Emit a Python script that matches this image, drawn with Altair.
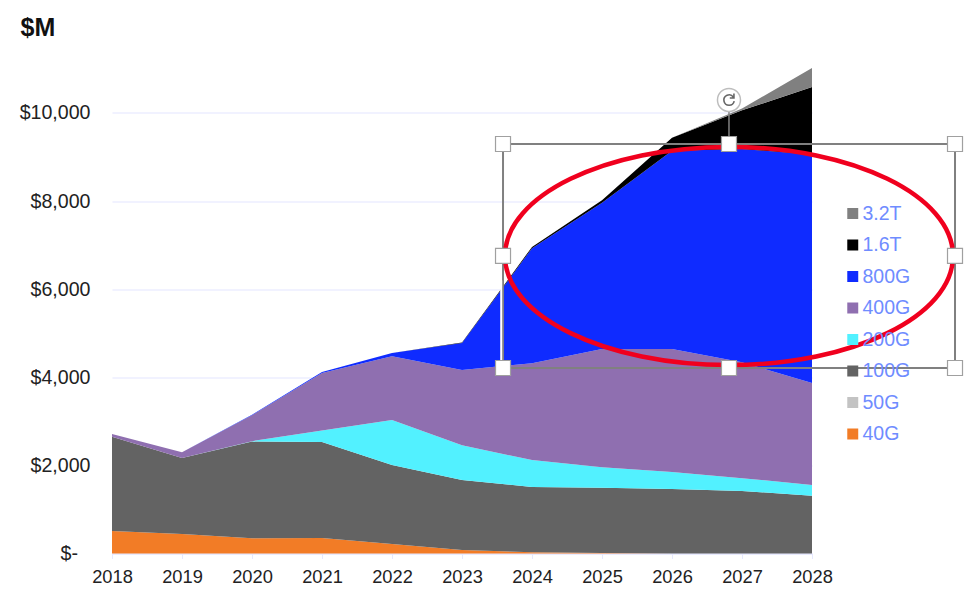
import altair as alt
import pandas as pd

# Market revenue by port speed, $M, bottom of the stack first
years = [2018, 2019, 2020, 2021, 2022, 2023, 2024, 2025, 2026, 2027, 2028]
speeds_stack = ["40G", "50G", "100G", "200G", "400G", "800G", "1.6T", "3.2T"]
speeds_legend = ["3.2T", "1.6T", "800G", "400G", "200G", "100G", "50G", "40G"]
colors_legend = ["#808080", "#000000", "#0F2BFF", "#8F6FB0", "#52F1FF", "#636363", "#C3C3C3", "#F27C26"]

v40 = [510, 443, 345, 350, 215, 80, 30, 10, 0, 0, 0]
v50 = [0, 0, 0, 0, 0, 0, 0, 0, 0, 0, 0]
v100 = [2140, 1727, 2195, 2180, 1795, 1590, 1480, 1480, 1465, 1420, 1310]
v200 = [0, 0, 10, 260, 1020, 790, 610, 470, 385, 290, 245]
v400 = [60, 130, 590, 1310, 1450, 1705, 2200, 2680, 2790, 2630, 2315]
v800 = [0, 0, 10, 20, 70, 615, 2610, 3320, 4505, 4840, 5190]
v16t = [0, 0, 0, 0, 0, 10, 30, 60, 295, 880, 1530]
v32t = [0, 0, 0, 0, 0, 0, 0, 0, 0, 40, 430]
series = [v40, v50, v100, v200, v400, v800, v16t, v32t]

y_ticks = [0, 2000, 4000, 6000, 8000, 10000]
zero_label = "$-"

# Slide-editor selection drawn over the chart, in axis units
box_left, box_right = 2023.586, 2030.043
box_top, box_bottom = 9296, 4211
box_mid_x, box_mid_y = 2026.814, 6754
rotate_stem_top = 10020
rotate_center = 10295
ellipse_x, ellipse_y = 2026.814, 6754
white_edge_x = 2023.56
white_edge_top = 6200

rows = []
for rank, (speed, values) in enumerate(zip(speeds_stack, series)):
    for year, value in zip(years, values):
        rows.append({"year": year, "speed": speed, "revenue": value, "rank": rank})
df = pd.DataFrame(rows)

x_scale = alt.Scale(domain=[2018, 2028], nice=False, zero=False)
y_scale = alt.Scale(domain=[0, 11055], nice=False)

areas = alt.Chart(df).mark_area(interpolate="linear").encode(
    x=alt.X(
        "year:Q",
        scale=x_scale,
        title=None,
        axis=alt.Axis(
            values=years,
            format="d",
            grid=False,
            labelFont="Liberation Sans",
            labelFontSize=18.3,
            labelColor="#222222",
            labelPadding=10,
            labelFlush=False,
            labelOverlap=False,
            domainColor="#E6E8FF",
            domainWidth=1.5,
            tickColor="#E6E8FF",
            tickSize=5,
        ),
    ),
    y=alt.Y(
        "revenue:Q",
        stack="zero",
        scale=y_scale,
        axis=alt.Axis(
            values=y_ticks,
            labelExpr="datum.value === 0 ? '' : '$' + format(datum.value, ',')",
            labelFont="Liberation Sans",
            labelFontSize=19.6,
            labelColor="#222222",
            labelPadding=22,
            tickSize=0,
            domain=False,
            grid=True,
            gridColor="#F1F2FF",
            gridWidth=2,
            title="$M",
            titleAngle=0,
            titleAlign="left",
            titleBaseline="middle",
            titleX=-92,
            titleY=-39.5,
            titleFont="Liberation Sans",
            titleFontSize=25,
            titleFontWeight="bold",
            titleColor="#111111",
        ),
    ),
    color=alt.Color(
        "speed:N",
        scale=alt.Scale(domain=speeds_legend, range=colors_legend),
        legend=alt.Legend(
            orient="none",
            legendX=731,
            legendY=136,
            title=None,
            symbolType="square",
            symbolSize=120,
            symbolStrokeWidth=0,
            labelFont="Liberation Sans",
            labelFontSize=19.5,
            labelColor="#6F8CFF",
            labelOffset=0,
            rowPadding=9.5,
            clipHeight=22,
        ),
    ),
    order=alt.Order("rank:Q", sort="ascending"),
)

X = alt.X("year:Q", scale=x_scale)
Y = alt.Y("revenue:Q", scale=y_scale)

# The zero tick label sits inset from the other dollar labels
zero_df = pd.DataFrame([{"year": years[0], "revenue": y_ticks[0], "label": zero_label}])
zero_text = alt.Chart(zero_df).mark_text(
    align="right",
    baseline="middle",
    dx=-34,
    font="Liberation Sans",
    fontSize=19.6,
    color="#222222",
).encode(x=X, y=Y, text="label:N")

box_df = pd.DataFrame([{"year": box_left, "x2": box_right, "revenue": box_bottom, "y2": box_top}])
box = alt.Chart(box_df).mark_rect(fillOpacity=0, stroke="#808080", strokeWidth=2).encode(
    x=X, x2="x2:Q", y=Y, y2="y2:Q"
)

white_df = pd.DataFrame([{"year": white_edge_x, "revenue": box_bottom, "y2": white_edge_top}])
white_edge = alt.Chart(white_df).mark_rule(color="#FFFFFF", strokeWidth=2).encode(
    x=X, y=Y, y2="y2:Q"
)

stem_df = pd.DataFrame([{"year": box_mid_x, "revenue": box_top, "y2": rotate_stem_top}])
stem = alt.Chart(stem_df).mark_rule(color="#808080", strokeWidth=1.5).encode(
    x=X, y=Y, y2="y2:Q"
)

ellipse_df = pd.DataFrame([{"year": ellipse_x, "revenue": ellipse_y}])
ellipse = alt.Chart(ellipse_df).mark_point(
    shape="M-1,0A1,0.487,0,1,1,1,0A1,0.487,0,1,1,-1,0Z",
    size=200704,
    filled=False,
    stroke="#F0001E",
    strokeWidth=4.5,
    opacity=1,
).encode(x=X, y=Y)

handles_df = pd.DataFrame(
    {
        "year": [box_left, box_mid_x, box_right, box_left, box_right, box_left, box_mid_x, box_right],
        "revenue": [box_top, box_top, box_top, box_mid_y, box_mid_y, box_bottom, box_bottom, box_bottom],
    }
)
handles = alt.Chart(handles_df).mark_square(
    size=225, fill="#FFFFFF", stroke="#A0A0A0", strokeWidth=1.2, opacity=1
).encode(x=X, y=Y)

rotate_df = pd.DataFrame([{"year": box_mid_x, "revenue": rotate_center}])
rotate_disc = alt.Chart(rotate_df).mark_circle(
    size=530, fill="#FFFFFF", stroke="#BDBDBD", strokeWidth=1.5, opacity=1
).encode(x=X, y=Y)
rotate_arrow = alt.Chart(rotate_df).mark_point(
    shape="M0.55,-0.35A0.65,0.65,0,1,0,0.65,0.15M0.62,-0.8L0.62,-0.25L0.1,-0.25",
    size=256,
    filled=False,
    stroke="#666666",
    strokeWidth=1.6,
    opacity=1,
).encode(x=X, y=Y)

chart = (
    alt.layer(areas, zero_text, box, white_edge, stem, ellipse, handles, rotate_disc, rotate_arrow)
    .properties(
        width=700,
        height=487,
        autosize="none",
        padding={"left": 112, "top": 66.5, "right": 163, "bottom": 37.5},
        background="#FFFFFF",
    )
    .configure_view(stroke=None)
)

chart.save("out.html", embed_options={"renderer": "svg", "actions": False})
